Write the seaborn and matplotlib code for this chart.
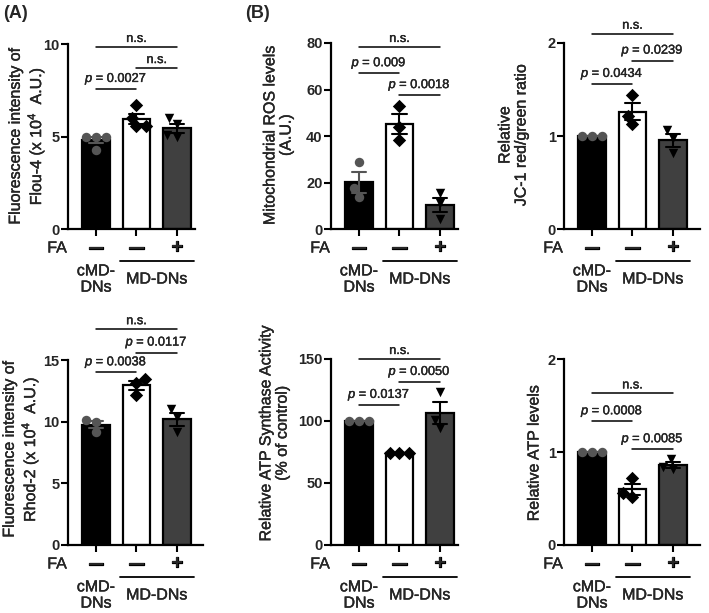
import matplotlib
matplotlib.use('Agg')
import matplotlib.pyplot as plt
import matplotlib.patheffects as pe
import pandas as pd
import seaborn as sns

# groups / x categories
groups = ['cMD-DNs', 'MD-DNs', 'MD-DNs+FA']
fa_signs = ['\u2014', '\u2014', '+']

# per-animal values
flou4_ctrl = [5.0, 5.0, 5.0, 4.25]
flou4_md = [6.7, 6.0, 5.55, 5.55]
flou4_fa = [6.0, 5.7, 5.1, 5.0]

ros_ctrl = [28.9, 13.9, 17.5]
ros_md = [52.9, 44.0, 38.3]
ros_fa = [15.5, 11.0, 4.5]

jc1_ctrl = [1.0, 1.0, 1.0]
jc1_md = [1.44, 1.22, 1.13]
jc1_fa = [1.06, 0.98, 0.82]

rhod2_ctrl = [10.1, 10.0, 9.2]
rhod2_md = [13.5, 13.1, 12.2]
rhod2_fa = [11.0, 10.4, 9.2]

synth_ctrl = [100.0, 100.0, 100.0]
synth_md = [74.0, 74.0, 74.0]
synth_fa = [123.6, 100.8, 94.0]

atp_ctrl = [1.0, 1.0, 1.0]
atp_md = [0.72, 0.52, 0.56]
atp_fa = [0.92, 0.84, 0.82]

# significance brackets: (group i, group j, height, text)
flou4_sig = [(0, 2, 9.84, 'n.s.'), (1, 2, 8.7, 'n.s.'), (0, 1, 7.57, '0.0027')]
ros_sig = [(0, 2, 78.3, 'n.s.'), (0, 1, 67, '0.009'), (1, 2, 57.6, '0.0018')]
jc1_sig = [(0, 2, 2.1, 'n.s.'), (1, 2, 1.81, '0.0239'), (0, 1, 1.56, '0.0434')]
rhod2_sig = [(0, 2, 17.5, 'n.s.'), (1, 2, 15.6, '0.0117'), (0, 1, 14.0, '0.0038')]
synth_sig = [(0, 2, 150, 'n.s.'), (1, 2, 131.5, '0.0050'), (0, 1, 113, '0.0137')]
atp_sig = [(0, 2, 1.63, 'n.s.'), (0, 1, 1.33, '0.0008'), (1, 2, 1.03, '0.0085')]

bar_colors = ['#000000', '#ffffff', '#404040']
point_colors = ['#555555', '#000000', '#000000']
markers = ['o', 'D', 'v']

sns.set_style('ticks')
plt.rcParams['font.family'] = ['Liberation Sans', 'DejaVu Sans']
plt.rcParams['mathtext.fontset'] = 'custom'
plt.rcParams['mathtext.rm'] = 'Liberation Sans'
plt.rcParams['mathtext.it'] = 'Liberation Sans:italic'
plt.rcParams['mathtext.bf'] = 'Liberation Sans:bold'

W, H = 709, 613
fig = plt.figure(figsize=(W / 100, H / 100), dpi=100)
thick = [pe.withStroke(linewidth=0.9, foreground='black')]
heavy = [pe.withStroke(linewidth=0.25, foreground='black')]


def make_df(ctrl, md, fa):
    vals = list(ctrl) + list(md) + list(fa)
    grp = [groups[0]] * len(ctrl) + [groups[1]] * len(md) + [groups[2]] * len(fa)
    return pd.DataFrame({'group': grp, 'value': vals})


def panel(box, df, yticks, ylabel, label_c, sig):
    left, right, top, bottom = box
    ax = fig.add_axes([left / W, 1 - bottom / H, (right - left) / W, (bottom - top) / H])
    sns.barplot(data=df, x='group', y='value', hue='group', order=groups, hue_order=groups,
                palette=bar_colors, errorbar='se', capsize=0.36, width=0.68,
                edgecolor='black', linewidth=1.6, legend=False,
                err_kws={'color': 'black', 'linewidth': 1.5, 'zorder': 4}, ax=ax)
    ax.lines[0].set_color(point_colors[0])
    for g, m, c in zip(groups, markers, point_colors):
        sns.swarmplot(data=df[df.group == g], x='group', y='value', order=groups,
                      marker=m, color=c, size=6.8, zorder=3, warn_thresh=1, ax=ax)

    ax_h = bottom - top
    ax.set_xlim(-0.69, -0.69 + (right - left) / 40.5)
    ax.set_ylim(0, yticks[-1])
    ax.set_yticks(yticks)
    ax.set_yticklabels([str(t) for t in yticks], fontweight='bold', fontsize=10.5)
    ax.set_xticks([0, 1, 2])
    ax.set_xticklabels([])
    ax.tick_params(axis='both', length=5, width=1.5, pad=1, color='black')
    for s in ['left', 'bottom']:
        ax.spines[s].set_linewidth(1.6)
        ax.spines[s].set_color('black')
    sns.despine(ax=ax)
    ax.set_xlabel('')
    ax.set_ylabel(ylabel, fontsize=11.5, va='center', linespacing=1.1, path_effects=heavy)
    ax.yaxis.set_label_coords((label_c[0] - left) / (right - left),
                              (bottom - label_c[1]) / ax_h)

    # significance brackets
    for i, j, y, txt in sig:
        ax.plot([i, j], [y, y], color='black', lw=1.1, clip_on=False)
        s = txt if txt == 'n.s.' else r'$\it{p}$ = ' + txt
        ax.annotate(s, xy=((i + j) / 2, y), xytext=(0, 2), textcoords='offset pixels',
                    ha='center', va='bottom', fontsize=9.2, annotation_clip=False,
                    path_effects=heavy)

    # treatment rows under the axis
    tr = ax.get_xaxis_transform()
    for k, sign in enumerate(fa_signs):
        ax.annotate(sign, xy=(k, 0), xycoords=tr, xytext=(0, -19), textcoords='offset pixels',
                    ha='center', va='center', fontsize=14 if sign == '+' else 10.5,
                    fontweight='bold', path_effects=thick)
    ax.annotate('FA', xy=(-0.72, 0), xycoords=tr, xytext=(0, -19), textcoords='offset pixels',
                ha='right', va='center', fontsize=11.5, path_effects=heavy)
    ax.plot([0.6, 2.43], [-32 / ax_h] * 2, transform=tr, color='black', lw=1.3, clip_on=False)
    ax.annotate('cMD-\nDNs', xy=(0, 0), xycoords=tr, xytext=(0, -50), textcoords='offset pixels',
                ha='center', va='center', fontsize=11.5, linespacing=1.1, path_effects=heavy)
    ax.annotate('MD-DNs', xy=(1.5, 0), xycoords=tr, xytext=(0, -50), textcoords='offset pixels',
                ha='center', va='center', fontsize=11.5, path_effects=heavy)
    return ax


panel((68, 195, 44, 229), make_df(flou4_ctrl, flou4_md, flou4_fa), [0, 5, 10],
      'Fluorescence intensity of\nFlou-4 (x 10$^4$  A.U.)', (27, 136), flou4_sig)
panel((331, 458, 43, 229), make_df(ros_ctrl, ros_md, ros_fa), [0, 20, 40, 60, 80],
      'Mitochondrial ROS levels\n(A.U.)', (278, 135), ros_sig)
panel((564, 700, 43, 229), make_df(jc1_ctrl, jc1_md, jc1_fa), [0, 1, 2],
      'Relative\nJC-1 red/green ratio', (513, 135), jc1_sig)
panel((68, 203, 360, 545), make_df(rhod2_ctrl, rhod2_md, rhod2_fa), [0, 5, 10, 15],
      'Fluorescence intensity of\nRhod-2 (x 10$^4$  A.U.)', (21, 449), rhod2_sig)
panel((331, 458, 359, 545), make_df(synth_ctrl, synth_md, synth_fa), [0, 50, 100, 150],
      'Relative ATP Synthase Activity\n(% of control)', (274, 433), synth_sig)
panel((564, 700, 359, 545), make_df(atp_ctrl, atp_md, atp_fa), [0, 1, 2],
      'Relative ATP levels', (534, 453), atp_sig)

fig.text(3 / W, 1 - 13 / H, '(A)', fontsize=13, fontweight='bold', va='center', ha='left')
fig.text(245 / W, 1 - 13 / H, '(B)', fontsize=13, fontweight='bold', va='center', ha='left')

fig.savefig('out.png', dpi=100)
